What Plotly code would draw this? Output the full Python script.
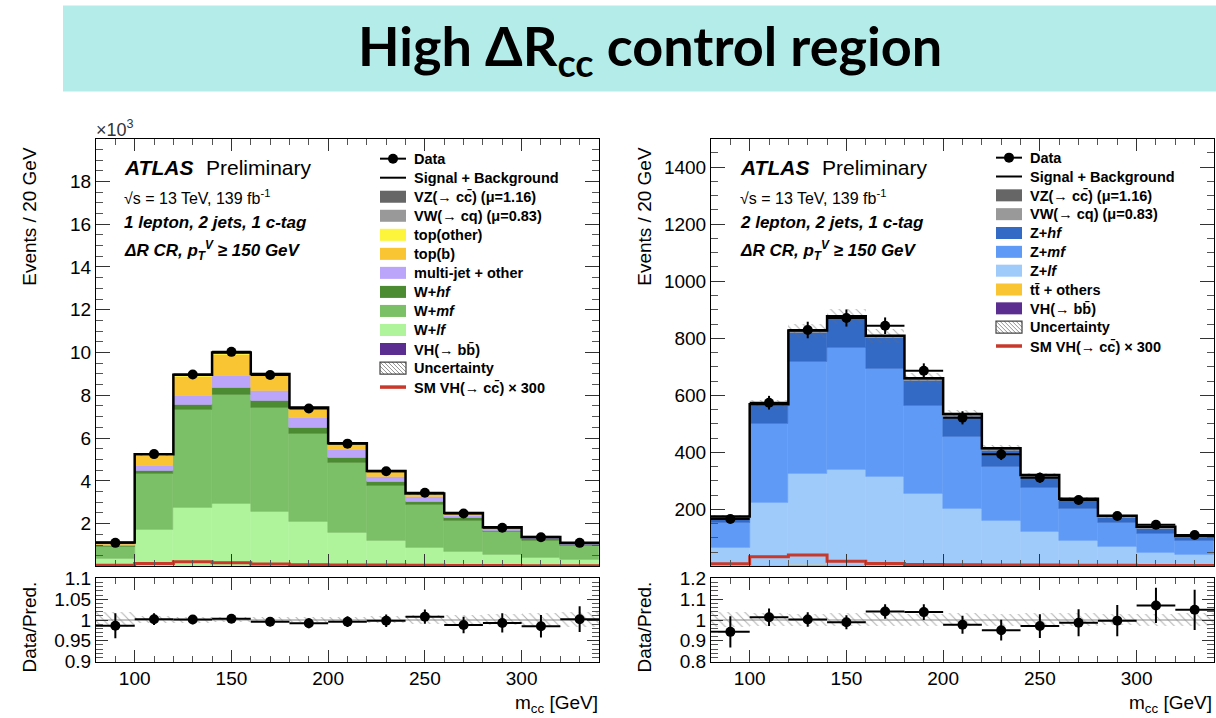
import numpy as np
import plotly.graph_objects as go

W, H = 1216, 718

# ---------------- binning ----------------
bin_edges = [80, 100, 120, 140, 160, 180, 200, 220, 240, 260, 280, 300, 320, 340]
bin_centers = [90, 110, 130, 150, 170, 190, 210, 230, 250, 270, 290, 310, 330]

# ---------------- left: 1 lepton (x10^3 events) ----------------
L_VHbb = [0.01, 0.01, 0.01, 0.01, 0.01, 0.01, 0.01, 0.01, 0.01, 0.01, 0.01, 0.01, 0.01]
L_Wlf = [0.35, 1.71, 2.76, 2.91, 2.53, 2.08, 1.56, 1.19, 0.89, 0.68, 0.52, 0.38, 0.31]
L_Wmf = [0.55, 2.60, 4.55, 5.09, 4.87, 4.12, 3.30, 2.58, 2.00, 1.47, 1.08, 0.83, 0.67]
L_Whf = [0.07, 0.14, 0.25, 0.34, 0.32, 0.27, 0.23, 0.17, 0.13, 0.10, 0.08, 0.06, 0.04]
L_multijet = [0.03, 0.24, 0.43, 0.55, 0.49, 0.47, 0.34, 0.26, 0.22, 0.13, 0.07, 0.05, 0.03]
L_topb = [0.08, 0.48, 0.87, 1.01, 0.68, 0.42, 0.26, 0.20, 0.12, 0.08, 0.04, 0.02, 0.01]
L_topother = [0.01, 0.03, 0.04, 0.04, 0.04, 0.03, 0.03, 0.02, 0.02, 0.01, 0.01, 0.01, 0.01]
L_VW = [0.01, 0.02, 0.03, 0.03, 0.03, 0.02, 0.02, 0.02, 0.01, 0.01, 0.01, 0.01, 0.01]
L_VZ = [0.005, 0.01, 0.02, 0.02, 0.02, 0.015, 0.01, 0.01, 0.01, 0.005, 0.005, 0.005, 0.005]
L_unc = [0.020, 0.042, 0.063, 0.070, 0.063, 0.052, 0.040, 0.036, 0.034, 0.030, 0.025, 0.022, 0.019]
L_signal300 = [0.05, 0.14, 0.22, 0.17, 0.11, 0.08, 0.07, 0.06, 0.05, 0.04, 0.04, 0.03, 0.03]
L_data = [1.10, 5.25, 8.97, 10.03, 8.95, 7.38, 5.74, 4.45, 3.44, 2.47, 1.81, 1.36, 1.10]
L_data_err = [0.033, 0.072, 0.095, 0.100, 0.095, 0.086, 0.076, 0.067, 0.059, 0.050, 0.043, 0.037, 0.033]
L_ratio = [0.986, 1.002, 1.001, 1.003, 0.996, 0.992, 0.996, 0.998, 1.008, 0.988, 0.993, 0.985, 1.002]
L_ratio_err = [0.030, 0.014, 0.011, 0.010, 0.011, 0.012, 0.013, 0.015, 0.017, 0.020, 0.023, 0.027, 0.031]

# ---------------- right: 2 lepton (events) ----------------
R_VHbb = [0.3, 1, 1, 1, 1, 0.5, 0.5, 0.5, 0.5, 0.3, 0.2, 0.2, 0.2]
R_ttbar = [1, 3, 4, 3, 2, 2, 1, 1, 1, 1, 0.5, 0.5, 0.5]
R_Zlf = [64, 219, 321, 337, 311, 252, 202, 158, 121, 88, 67, 49, 40]
R_Zmf = [87, 278, 393, 426, 379, 311, 252, 192, 153, 115, 86, 65, 50]
R_Zhf = [17, 62, 101, 104, 109, 86, 71, 54, 37, 27, 18, 18, 10]
R_VW = [3, 3, 4, 3, 4, 4, 4, 4, 4, 3, 3, 3, 3]
R_VZ = [3, 3, 3, 3, 3, 4, 4, 5, 4, 3, 3, 3, 3]
R_unc = [6, 17, 24, 26, 24, 19, 16, 12, 10, 7, 5, 4, 3.5]
R_signal300 = [9, 34, 40, 18, 10, 7, 6, 5, 5, 4, 4, 3, 3]
R_data = [166, 574, 829, 871, 844, 686, 521, 393, 311, 233, 177, 146, 110]
R_data_err = [13, 24, 29, 30, 29, 26, 23, 20, 18, 15, 13, 12, 10]
R_ratio = [0.943, 1.013, 1.002, 0.989, 1.041, 1.038, 0.977, 0.951, 0.971, 0.987, 0.997, 1.070, 1.049]
R_ratio_err = [0.075, 0.042, 0.035, 0.034, 0.035, 0.038, 0.043, 0.050, 0.057, 0.065, 0.075, 0.085, 0.097]

# ---------------- colours ----------------
C_VZ, C_VW = "#666666", "#999999"
C_topother, C_topb = "#fdf53c", "#f9c532"
C_multijet = "#bba5fb"
C_Whf, C_Wmf, C_Wlf = "#4d8b32", "#7bbf66", "#aff49b"
C_VHbb = "#5b2d91"
C_Zhf, C_Zmf, C_Zlf = "#336ac6", "#5f9bf6", "#9fcbfb"
C_signal = "#c8392b"

FONT = "Liberation Sans"

# page-to-screen vertical calibration (measured: screen_y = 9.6 + 0.969 * page_y)
Y_OFF, Y_SCALE = 9.6, 0.969


def px(x):
    return x / W


def py(y):
    return 1 - ((y - Y_OFF) / Y_SCALE) / H


fig = go.Figure()


def add_panel(fig, comps, colors, unc, signal, data, data_err, ratio, ratio_err, xa, ya, xr, yr):
    base = np.zeros(len(bin_centers))
    for vals, col in zip(comps, colors):
        v = np.array(vals, dtype=float)
        fig.add_trace(go.Bar(x=bin_centers, y=v, base=base.copy(), width=20,
                             marker=dict(color=col, line=dict(width=0.5, color=col)),
                             xaxis=xa, yaxis=ya, showlegend=False, hoverinfo="skip"))
        base += v
    total = base
    u = np.array(unc, dtype=float)
    hatch = dict(shape="\\", fgcolor="#6a6a6a", bgcolor="rgba(0,0,0,0)", size=6,
                 solidity=0.18, fillmode="overlay")
    fig.add_trace(go.Bar(x=bin_centers, y=2 * u, base=total - u, width=20,
                         marker=dict(color="rgba(0,0,0,0)", line=dict(width=0), pattern=hatch),
                         xaxis=xa, yaxis=ya, showlegend=False, hoverinfo="skip"))
    fig.add_trace(go.Scatter(x=bin_edges, y=list(signal) + [signal[-1]], mode="lines",
                             line=dict(shape="hv", color=C_signal, width=3),
                             xaxis=xa, yaxis=ya, showlegend=False, hoverinfo="skip"))
    fig.add_trace(go.Scatter(x=bin_edges, y=list(total) + [total[-1]], mode="lines",
                             line=dict(shape="hv", color="black", width=2.5),
                             xaxis=xa, yaxis=ya, showlegend=False, hoverinfo="skip"))
    fig.add_trace(go.Scatter(x=bin_centers, y=data, mode="markers",
                             marker=dict(color="black", size=10),
                             error_y=dict(type="data", array=data_err, thickness=2, width=0, color="black"),
                             error_x=dict(type="constant", value=10, thickness=2, width=0, color="black"),
                             xaxis=xa, yaxis=ya, showlegend=False))
    rel = u / total
    fig.add_trace(go.Bar(x=bin_centers, y=2 * rel, base=1 - rel, width=20,
                         marker=dict(color="rgba(0,0,0,0)", line=dict(width=0), pattern=hatch),
                         xaxis=xr, yaxis=yr, showlegend=False, hoverinfo="skip"))
    fig.add_trace(go.Scatter(x=[bin_edges[0], bin_edges[-1]], y=[1, 1], mode="lines",
                             line=dict(color="#888888", width=1),
                             xaxis=xr, yaxis=yr, showlegend=False, hoverinfo="skip"))
    fig.add_trace(go.Scatter(x=bin_centers, y=ratio, mode="markers",
                             marker=dict(color="black", size=10),
                             error_y=dict(type="data", array=ratio_err, thickness=2, width=0, color="black"),
                             error_x=dict(type="constant", value=10, thickness=2, width=0, color="black"),
                             xaxis=xr, yaxis=yr, showlegend=False))


add_panel(fig,
          [L_VHbb, L_Wlf, L_Wmf, L_Whf, L_multijet, L_topb, L_topother, L_VW, L_VZ],
          [C_VHbb, C_Wlf, C_Wmf, C_Whf, C_multijet, C_topb, C_topother, C_VW, C_VZ],
          L_unc, L_signal300, L_data, L_data_err, L_ratio, L_ratio_err, "x", "y", "x2", "y2")
add_panel(fig,
          [R_VHbb, R_ttbar, R_Zlf, R_Zmf, R_Zhf, R_VW, R_VZ],
          [C_VHbb, C_topb, C_Zlf, C_Zmf, C_Zhf, C_VW, C_VZ],
          R_unc, R_signal300, R_data, R_data_err, R_ratio, R_ratio_err, "x3", "y3", "x4", "y4")

MAIN_Y = [py(565), py(138)]
RAT_Y = [py(660), py(577)]
LEFT_X = [px(96), px(599)]
RIGHT_X = [px(711), px(1214)]

base_ax = dict(showline=True, linecolor="black", linewidth=1, mirror="allticks", ticks="inside",
               showgrid=False, zeroline=False, tickcolor="#333333",
               tickfont=dict(family=FONT, size=19, color="black"))


def xax(domain, anchor, labels):
    d = dict(base_ax)
    d.update(domain=domain, anchor=anchor, range=[80, 340], tickmode="linear", tick0=0, dtick=50,
             ticklen=12, showticklabels=labels,
             minor=dict(ticks="inside", tickmode="linear", tick0=0, dtick=10, ticklen=6, tickcolor="#555555"))
    return d


def yax(domain, anchor, rng, vals, text, minor_dt, tl=14):
    d = dict(base_ax)
    d.update(domain=domain, anchor=anchor, range=rng, tickmode="array", tickvals=vals, ticktext=text,
             ticklen=tl,
             minor=dict(ticks="inside", tickmode="linear", tick0=0, dtick=minor_dt, ticklen=7, tickcolor="#555555"))
    return d


L_yticks = [2, 4, 6, 8, 10, 12, 14, 16, 18]
R_yticks = [200, 400, 600, 800, 1000, 1200, 1400]
L_rticks = [0.9, 0.95, 1.0, 1.05, 1.1]
L_rtext = ["0.9", "0.95", "1", "1.05", "1.1"]
R_rticks = [0.8, 0.9, 1.0, 1.1, 1.2]
R_rtext = ["0.8", "0.9", "1", "1.1", "1.2"]

fig.update_layout(
    width=W, height=H, margin=dict(l=0, r=0, t=0, b=0), autosize=False,
    paper_bgcolor="white", plot_bgcolor="white", barmode="overlay", bargap=0,
    font=dict(family=FONT, color="black"),
    xaxis=xax(LEFT_X, "y", False),
    yaxis=yax(MAIN_Y, "x", [0, 20], L_yticks, [str(v) for v in L_yticks], 0.5),
    xaxis2=xax(LEFT_X, "y2", True),
    yaxis2=yax(RAT_Y, "x2", [0.9, 1.1], L_rticks, L_rtext, 0.01, 12),
    xaxis3=xax(RIGHT_X, "y3", False),
    yaxis3=yax(MAIN_Y, "x3", [0, 1500], R_yticks, [str(v) for v in R_yticks], 50),
    xaxis4=xax(RIGHT_X, "y4", True),
    yaxis4=yax(RAT_Y, "x4", [0.8, 1.2], R_rticks, R_rtext, 0.02, 12),
)

shapes = []
ann = []

# title banner
shapes.append(dict(type="rect", xref="paper", yref="paper", x0=px(63), x1=px(1216), y0=py(91), y1=py(5),
                   fillcolor="#b4ecea", line=dict(width=0), layer="below"))
ann.append(dict(text="<b>High ΔR<sub>cc</sub> control region</b>", x=px(650), y=py(49), xref="paper", yref="paper",
                xanchor="center", yanchor="middle", showarrow=False,
                font=dict(family="Lato", size=54, color="black", weight=900)))


def T(text, x, y, size, xanchor="left", angle=0, yanchor="middle", color="black", family=FONT):
    ann.append(dict(text=text, x=px(x), y=py(y), xref="paper", yref="paper", xanchor=xanchor, yanchor=yanchor,
                    showarrow=False, textangle=angle, font=dict(family=family, size=size, color=color)))


for x0 in (30, 645):
    T("Events / 20 GeV", x0, 216, 19, xanchor="center", angle=-90)
    T("Data/Pred.", x0, 626, 19, xanchor="center", angle=-90)
T("m<sub>cc</sub> [GeV]", 600, 702, 19, xanchor="right")
T("m<sub>cc</sub> [GeV]", 1214, 702, 19, xanchor="right")
T("×10<sup>3</sup>", 94, 128, 18, color="#333333")

for x0, chan in ((122, "1 lepton, 2 jets, 1 c-tag"), (738, "2 lepton, 2 jets, 1 c-tag")):
    T("<b><i>ATLAS</i></b>", x0, 167, 21)
    T("Preliminary", x0 + 82, 167, 21)
    T("√s = 13 TeV, 139 fb<sup>-1</sup>", x0, 196, 16)
    T("<b><i>" + chan + "</i></b>", x0, 222, 17)
    T("<b><i>ΔR CR, p<sub>T</sub><sup>V</sup> ≥ 150 GeV</i></b>", x0, 250, 17)

L_legend = [("data", None, "Data"), ("line", "black", "Signal + Background"),
            ("box", C_VZ, "VZ(→ cc̄) (μ=1.16)"), ("box", C_VW, "VW(→ cq) (μ=0.83)"),
            ("box", C_topother, "top(other)"), ("box", C_topb, "top(b)"),
            ("box", C_multijet, "multi-jet + other"), ("box", C_Whf, "W+<i>hf</i>"),
            ("box", C_Wmf, "W+<i>mf</i>"), ("box", C_Wlf, "W+<i>lf</i>"),
            ("box", C_VHbb, "VH(→ bb̄)"), ("hatch", None, "Uncertainty"),
            ("red", C_signal, "SM VH(→ cc̄) × 300")]
R_legend = [("data", None, "Data"), ("line", "black", "Signal + Background"),
            ("box", C_VZ, "VZ(→ cc̄) (μ=1.16)"), ("box", C_VW, "VW(→ cq) (μ=0.83)"),
            ("box", C_Zhf, "Z+<i>hf</i>"), ("box", C_Zmf, "Z+<i>mf</i>"),
            ("box", C_Zlf, "Z+<i>lf</i>"), ("box", C_topb, "tt̄ + others"),
            ("box", C_VHbb, "VH(→ bb̄)"), ("hatch", None, "Uncertainty"),
            ("red", C_signal, "SM VH(→ cc̄) × 300")]


def draw_legend(entries, sx0, sx1, tx, y0, dy):
    for i, (kind, col, text) in enumerate(entries):
        yc = y0 + i * dy
        if kind == "box":
            shapes.append(dict(type="rect", xref="paper", yref="paper", x0=px(sx0), x1=px(sx1),
                               y0=py(yc + 6), y1=py(yc - 6), fillcolor=col, line=dict(width=0)))
        elif kind in ("line", "red", "data"):
            c = "black" if kind != "red" else col
            w = 2 if kind != "red" else 3.5
            shapes.append(dict(type="line", xref="paper", yref="paper", x0=px(sx0), x1=px(sx1),
                               y0=py(yc), y1=py(yc), line=dict(color=c, width=w)))
            if kind == "data":
                xm = (sx0 + sx1) / 2
                shapes.append(dict(type="circle", xref="paper", yref="paper", x0=px(xm - 5), x1=px(xm + 5),
                                   y0=py(yc + 5), y1=py(yc - 5), fillcolor="black", line=dict(width=0)))
        elif kind == "hatch":
            top, bot = yc - 6, yc + 6
            hgt = bot - top
            k = -hgt
            while k < (sx1 - sx0):
                xa, ya_ = sx0 + k, top
                xb, yb = sx0 + k + hgt, bot
                if xa < sx0:
                    ya_ += sx0 - xa
                    xa = sx0
                if xb > sx1:
                    yb -= xb - sx1
                    xb = sx1
                shapes.append(dict(type="line", xref="paper", yref="paper", x0=px(xa), x1=px(xb),
                                   y0=py(ya_), y1=py(yb), line=dict(color="#777777", width=0.8)))
                k += 4
            shapes.append(dict(type="rect", xref="paper", yref="paper", x0=px(sx0), x1=px(sx1),
                               y0=py(bot), y1=py(top), line=dict(color="#444444", width=1.2)))
        T("<b>" + text + "</b>", tx, yc, 14.5)


draw_legend(L_legend, 380, 406, 412, 158, 19.0)
draw_legend(R_legend, 996, 1022, 1028, 157, 18.8)

fig.update_layout(shapes=shapes, annotations=ann)
fig.write_html("out.html")
